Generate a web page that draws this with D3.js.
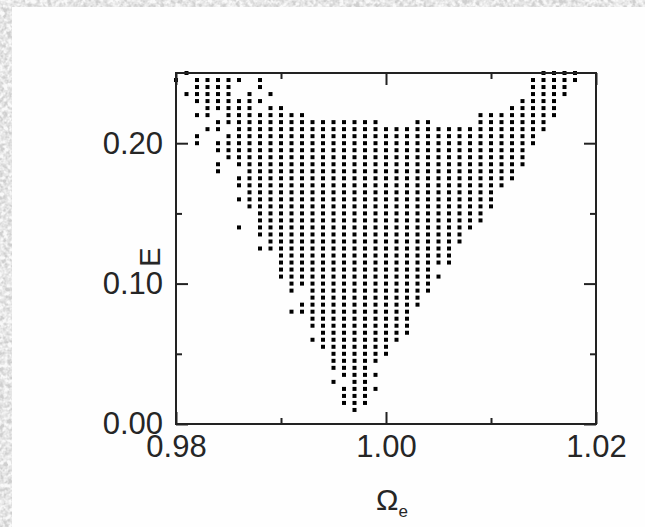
<!DOCTYPE html>
<html>
<head>
<meta charset="utf-8">
<script src="https://cdn.jsdelivr.net/npm/d3@7"></script>
<style>
  html, body { margin: 0; padding: 0; background: #d4d4d4; }
  svg { display: block; }
  .tick text { font-family: "Liberation Sans", Arial, sans-serif; fill: #262626; }
</style>
</head>
<body>
<svg id="chart" width="645" height="527"></svg>
<script>
// Omega_e grid columns (0.980 .. 1.020, step 0.001)
const omegaCols = [0.980, 0.981, 0.982, 0.983, 0.984, 0.985, 0.986, 0.987, 0.988, 0.989,
                   0.990, 0.991, 0.992, 0.993, 0.994, 0.995, 0.996, 0.997, 0.998, 0.999,
                   1.000, 1.001, 1.002, 1.003, 1.004, 1.005, 1.006, 1.007, 1.008, 1.009,
                   1.010, 1.011, 1.012, 1.013, 1.014, 1.015, 1.016, 1.017, 1.018, 1.019,
                   1.020];

// E rows, top to bottom
const eRows = [0.250, 0.245, 0.240, 0.235, 0.230, 0.225, 0.220, 0.215, 0.210, 0.205,
               0.200, 0.195, 0.190, 0.185, 0.180, 0.175, 0.170, 0.165, 0.160, 0.155,
               0.150, 0.145, 0.140, 0.135, 0.130, 0.125, 0.120, 0.115, 0.110, 0.105,
               0.100, 0.095, 0.090, 0.085, 0.080, 0.075, 0.070, 0.065, 0.060, 0.055,
               0.050, 0.045, 0.040, 0.035, 0.030, 0.025, 0.020, 0.015, 0.010];

// which grid cells hold a point, one mask per E row ('#' = point), blocks of 10 columns
const rowMasks = [
  ".#........ .......... .......... .....####. .",
  "#.#####.#. .......... .......... ....#####. .",
  "..####..#. .......... .......... ....####.. .",
  ".#####.#.# .......... .......... ....####.. .",
  "..#######. .......... .......... ...####... .",
  "...#####.# #......... .......... ..#####... .",
  "..##.##### ###....... .........# #######... .",
  "....###### ########## ...##....# ######.... .",
  "...##.#### ########## ########## ######.... .",
  "..#..##### ########## ########## #####..... .",
  "..#.###### ########## ########## #####..... .",
  "....###### ########## ########## ####...... .",
  ".....##### ########## ########## ####...... .",
  "....#.#### ########## ########## ####...... .",
  "....#..### ########## ########## ###....... .",
  "......#### ########## ########## ###....... .",
  "......#### ########## ########## ##........ .",
  ".......### ########## ########## #......... .",
  "......#### ########## ########## #......... .",
  ".......### ########## ########## #......... .",
  "........## ########## ########## .......... .",
  "........## ########## ########## .......... .",
  "......#.## ########## #########. .......... .",
  "........## ########## ########.. .......... .",
  ".........# ########## ########.. .......... .",
  "........## ########## #######... .......... .",
  ".......... ########## #######... .......... .",
  ".......... ########## #######... .......... .",
  ".......... ########## #####..... .......... .",
  ".......... ########## ######.... .......... .",
  ".......... .######### #####..... .......... .",
  ".......... .#.####### #####..... .......... .",
  ".......... ...####### ####...... .......... .",
  ".......... ..######## ####...... .......... .",
  ".......... .######### ###....... .......... .",
  ".......... ...####### ###....... .......... .",
  ".......... ...####### ###....... .......... .",
  ".......... ....###### ###....... .......... .",
  ".......... ...####### ##........ .......... .",
  ".......... ....###### #......... .......... .",
  ".......... .....##### #......... .......... .",
  ".......... .....##### .......... .......... .",
  ".......... .....####. .......... .......... .",
  ".......... ......#### .......... .......... .",
  ".......... .....#.##. .......... .......... .",
  ".......... ......#### .......... .......... .",
  ".......... ......###. .......... .......... .",
  ".......... ......###. .......... .......... .",
  ".......... .......#.. .......... .......... ."
];

const xTicksMajor = [0.98, 1.00, 1.02];
const xTicksMinor = [0.99, 1.01];
const yTicksMajor = [0.00, 0.10, 0.20];
const yTicksMinor = [0.05, 0.15];

const points = [];
rowMasks.forEach((mask, i) => {
    mask.replace(/ /g, '').split('').forEach((c, j) => {
        if (c === '#') points.push({omega: omegaCols[j], e: eRows[i]});
    });
});

const svg = d3.select('#chart');

// speckled light grey background, white sheet on top
const defs = svg.append('defs');
const f = defs.append('filter').attr('id', 'marble')
    .attr('x', 0).attr('y', 0).attr('width', '100%').attr('height', '100%');
f.append('feTurbulence').attr('type', 'fractalNoise')
    .attr('baseFrequency', 0.25).attr('numOctaves', 2).attr('seed', 7);
f.append('feColorMatrix').attr('type', 'matrix')
    .attr('values', '0 0 0 0 0.95  0 0 0 0 0.95  0 0 0 0 0.95  1.4 1.4 1.4 0 -1.55');
svg.append('rect').attr('width', 645).attr('height', 527).attr('fill', '#cfcfcf');
svg.append('rect').attr('width', 645).attr('height', 527).attr('filter', 'url(#marble)');
svg.append('rect').attr('x', 12).attr('y', 7).attr('width', 633).attr('height', 520)
    .attr('fill', '#fefefe');

const margin = {top: 73, right: 49, bottom: 103, left: 176};
const width = 645 - margin.left - margin.right;
const height = 527 - margin.top - margin.bottom;

const g = svg.append('g').attr('transform', `translate(${margin.left}, ${margin.top})`);

const xScale = d3.scaleLinear().domain([0.98, 1.02]).range([0, width]);
const yScale = d3.scaleLinear().domain([0, 0.25]).range([height, 0]);

// points
g.append('g').selectAll('rect')
    .data(points)
    .enter()
    .append('rect')
    .attr('x', d => xScale(d.omega) - 2)
    .attr('y', d => yScale(d.e) - 2)
    .attr('width', 4)
    .attr('height', 4)
    .attr('fill', '#000');

function styleAxis(sel) {
    sel.select('.domain').remove();
    sel.selectAll('.tick line').attr('stroke', '#222').attr('stroke-width', 2);
    sel.selectAll('.tick text').style('font-size', '31px');
}

// x axis, bottom with labels
g.append('g')
    .attr('transform', `translate(0, ${height})`)
    .call(d3.axisBottom(xScale).tickValues(xTicksMajor).tickSize(-12).tickPadding(11)
        .tickFormat(d3.format('.2f')))
    .call(styleAxis);
g.append('g')
    .attr('transform', `translate(0, ${height})`)
    .call(d3.axisBottom(xScale).tickValues(xTicksMinor).tickSize(-6).tickFormat(''))
    .call(styleAxis);
// top
g.append('g')
    .call(d3.axisTop(xScale).tickValues(xTicksMajor).tickSize(-12).tickFormat(''))
    .call(styleAxis);
g.append('g')
    .call(d3.axisTop(xScale).tickValues(xTicksMinor).tickSize(-6).tickFormat(''))
    .call(styleAxis);

// y axis, left with labels
g.append('g')
    .call(d3.axisLeft(yScale).tickValues(yTicksMajor).tickSize(-12).tickPadding(13)
        .tickFormat(d3.format('.2f')))
    .call(styleAxis);
g.append('g')
    .call(d3.axisLeft(yScale).tickValues(yTicksMinor).tickSize(-6).tickFormat(''))
    .call(styleAxis);
// right
g.append('g')
    .attr('transform', `translate(${width}, 0)`)
    .call(d3.axisRight(yScale).tickValues(yTicksMajor).tickSize(-12).tickFormat(''))
    .call(styleAxis);
g.append('g')
    .attr('transform', `translate(${width}, 0)`)
    .call(d3.axisRight(yScale).tickValues(yTicksMinor).tickSize(-6).tickFormat(''))
    .call(styleAxis);

// frame
g.append('rect')
    .attr('width', width).attr('height', height)
    .attr('fill', 'none').attr('stroke', '#222').attr('stroke-width', 2);

// axis titles
const xt = svg.append('text')
    .attr('x', 392).attr('y', 510)
    .attr('text-anchor', 'middle')
    .style('font-family', '"Liberation Sans", Arial, sans-serif')
    .style('font-size', '30px')
    .attr('fill', '#262626');
xt.append('tspan').text('Ω');
xt.append('tspan').attr('dy', 7).style('font-size', '17px').text('e');

svg.append('text')
    .attr('transform', 'translate(160, 257) rotate(-90)')
    .attr('text-anchor', 'middle')
    .style('font-family', '"Liberation Sans", Arial, sans-serif')
    .style('font-size', '29px')
    .attr('fill', '#262626')
    .text('E');
</script>
</body>
</html>
